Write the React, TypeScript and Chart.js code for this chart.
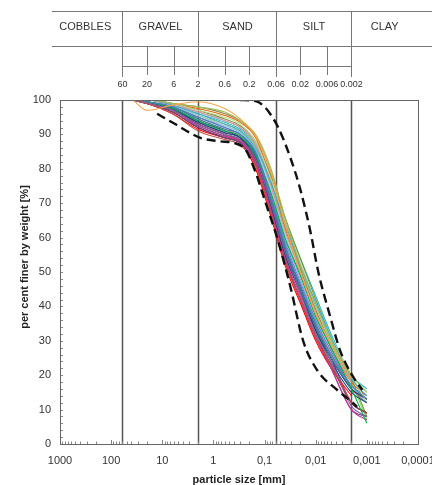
import React, { useEffect, useRef } from 'react';
import { Chart, registerables } from 'chart.js';

Chart.register(...registerables);

// particle sizes [mm] for the sample curves
const SIZES = [37.5, 20, 6.3, 2, 0.6, 0.3, 0.15, 0.075, 0.04, 0.02, 0.01, 0.005, 0.002, 0.001];

// per cent finer for each sample
const SAMPLES: (number | null)[][] = [
  [100, 97, 98.5, 99.5, 97.5, 94.5, 89.5, 79, 64, 50, 38, 29, 19, null],
  [100, 100, 99, 98, 96.5, 94, 90, 80, 66, 52, 40, 30, 20, 15],
  [100, 99, 96, 91, 88.5, 87, 81, 67, 53, 42, 31, 23, 12, null],
  [100, 99.5, 98, 95, 92, 90, 85, 72, 58, 46, 35, 26, 17, 13],
  [100, 99, 97, 93, 90, 88.5, 83, 70, 56, 44, 32, 24, 11, 8],
  [100, 100, 98.5, 96, 93, 91, 86, 76, 64, 52, 41, 31, 19, 14],
  [100, 99.5, 97.5, 94, 91, 89.5, 84, 73, 60, 49, 37, 28, 16, 6],
  [100, 99, 97, 92.5, 89.5, 88, 82, 68, 54, 43, 31, 22, 10, 7],
  [100, 99.5, 98, 94.5, 91.5, 90, 84.5, 71, 57, 45, 34, 25, 16, null],
  [100, 99, 97, 93.5, 90.5, 89, 83.5, 69, 55, 44, 33, 24, 15, 12],
  [100, 100, 98.5, 96.5, 94, 92, 87, 75, 62, 50, 38, 28, 18, null],
  [100, 100, 99, 97, 95, 93, 88, 77, 65, 53, 41, 31, 20, 12],
  [100, 99.5, 97.5, 94, 91, 89, 83, 70, 56, 45, 33, 25, 16, 13],
  [100, 100, 99, 97.5, 95.5, 93.5, 89, 77, 63, 50, 38, 28, 18, 14],
  [100, 99, 96.5, 92, 89, 87.5, 81.5, 68, 54, 42, 31, 22, 10, 8],
  [100, 100, 98.5, 95.5, 92.5, 90.5, 85.5, 74, 61, 49, 38, 28, 17, 12],
  [100, 99.5, 97, 93, 90, 88, 82.5, 69, 55, 44, 32, 23, 12, 9],
  [100, 100, 99, 97, 94.5, 92.5, 88, 78, 66, 54, 42, 31, 19, 8],
  [100, 99.5, 98, 95, 92, 90, 84.5, 72, 59, 47, 36, 27, 17, 14],
  [100, 99, 96, 91.5, 89, 87.5, 80, 66, 52, 41, 30, 22, 14, null],
  [100, 99.5, 97.5, 93.5, 90.5, 89, 84, 71, 57, 46, 34, 25, 12, 9],
  [100, 100, 98.5, 96, 93.5, 91.5, 87, 76, 65, 54, 43, 32, 20, 16],
  [100, 100, 99, 98, 96, 94, 89.5, 79, 65, 51, 39, 29, 19, null],
  [100, 99.5, 98, 94.5, 91.5, 89.5, 84.5, 72, 58, 46, 35, 26, 16, 12],
  [100, 99.5, 97.5, 93, 90, 88.5, 83, 70, 57, 46, 35, 26, 17, 13],
  [100, 99, 97, 92.5, 89.5, 88, 82.5, 69, 56, 45, 34, 25, 16, 12],
  [100, 100, 98, 95, 92.5, 90.5, 85, 73, 60, 48, 36, 27, 17, 13],
  [100, 100, 98.5, 95.5, 93, 91, 86.5, 75, 63, 52, 41, 30, 18, 7],
  [100, 99, 96.5, 92, 89, 87.5, 81, 67, 53, 42, 31, 23, 12, 9],
  [100, 100, 99, 96.5, 94, 92, 87.5, 76, 63, 51, 39, 29, 18, null],
];

const COLORS = [
  '#F7A54A', '#9BBB59', '#C0504D', '#4F81BD', '#8064A2', '#4BACC6', '#00B050', '#CC3399',
  '#31859C', '#1F497D', '#D99694', '#C3D69B', '#17375E', '#E46C0A', '#604A7B', '#93CDDD',
  '#953735', '#77933C', '#558ED5', '#FF0000', '#7030A0', '#2FB5C5', '#948A54', '#E26B8A',
  '#4F6228', '#0070C0', '#B2A1C7', '#92D050', '#C00000', '#8EB4E3',
];

// envelope curves (dashed)
const LOWER_SIZES = [12.6, 5.6, 1.8, 0.74, 0.26, 0.15, 0.1, 0.057, 0.0316, 0.0176, 0.0094, 0.0038, 0.00185, 0.00155];
const LOWER_VALUES = [96, 93, 89, 88, 86.3, 79, 71, 60, 46, 30, 21.5, 15.7, 11.9, 10.8];
const UPPER_SIZES = [0.3, 0.15, 0.1, 0.078, 0.054, 0.0316, 0.02, 0.0128, 0.0089, 0.0052, 0.0033, 0.00185, 0.00123];
const UPPER_VALUES = [100, 99.7, 98, 96, 92, 83.4, 74, 62, 50, 37, 27, 19.5, 15.7];

const X_TICKS = [1000, 100, 10, 1, 0.1, 0.01, 0.001, 0.0001];
const X_TICK_LABELS = ['1000', '100', '10', '1', '0,1', '0,01', '0,001', '0,0001'];

const CLASS_NAMES = ['COBBLES', 'GRAVEL', 'SAND', 'SILT', 'CLAY'];
const CLASS_BOUNDS = [60, 2, 0.06, 0.002];
const TABLE_TICKS = [60, 20, 6, 2, 0.6, 0.2, 0.06, 0.02, 0.006, 0.002];
const TABLE_TICK_LABELS = ['60', '20', '6', '2', '0.6', '0.2', '0.06', '0.02', '0.006', '0.002'];

const Y_TITLE = 'per cent finer by weight [%]';
const X_TITLE = 'particle size [mm]';

const FONT = '"Liberation Sans", Arial, sans-serif';

function seg(ctx: CanvasRenderingContext2D, x1: number, y1: number, x2: number, y2: number) {
  ctx.beginPath();
  ctx.moveTo(x1, y1);
  ctx.lineTo(x2, y2);
  ctx.stroke();
}

const framePlugin = {
  id: 'frame',
  beforeDatasetsDraw(chart: any) {
    const { ctx, chartArea: a } = chart;
    const xs = chart.scales.x;
    const ys = chart.scales.y;
    ctx.save();
    // class boundary lines
    ctx.strokeStyle = '#555';
    ctx.lineWidth = 1.5;
    CLASS_BOUNDS.forEach((v) => {
      const x = Math.round(xs.getPixelForValue(v)) + 0.5;
      seg(ctx, x, a.top, x, a.bottom);
    });
    // minor ticks
    ctx.strokeStyle = '#888';
    ctx.lineWidth = 1;
    for (let v = 0; v <= 100; v += 2) {
      const y = Math.round(ys.getPixelForValue(v)) + 0.5;
      seg(ctx, a.left, y, a.left + 3, y);
    }
    for (let e = -4; e < 3; e++) {
      for (let m = 1; m <= 9; m++) {
        const x = Math.round(xs.getPixelForValue(m * Math.pow(10, e))) + 0.5;
        seg(ctx, x, a.bottom, x, a.bottom - (m === 1 ? 4 : 2.5));
      }
    }
    ctx.restore();
  },
  afterDraw(chart: any) {
    const { ctx, chartArea: a } = chart;
    const xs = chart.scales.x;
    ctx.save();
    ctx.strokeStyle = '#666';
    ctx.lineWidth = 1;
    ctx.strokeRect(Math.round(a.left) + 0.5, Math.round(a.top) + 0.5, Math.round(a.right - a.left), Math.round(a.bottom - a.top));

    // y axis title
    ctx.save();
    ctx.translate(25, 257);
    ctx.rotate(-Math.PI / 2);
    ctx.fillStyle = '#222';
    ctx.font = `bold 11px ${FONT}`;
    ctx.textAlign = 'center';
    ctx.textBaseline = 'middle';
    ctx.fillText(Y_TITLE, 0, 0);
    ctx.restore();

    // classification table
    ctx.strokeStyle = '#777';
    seg(ctx, 52, 11.5, 432, 11.5);
    seg(ctx, 52, 46.5, 432, 46.5);
    const bx = CLASS_BOUNDS.map((v) => Math.round(xs.getPixelForValue(v)) + 0.5);
    bx.forEach((x) => seg(ctx, x, 11, x, 77));
    seg(ctx, bx[0], 66.5, bx[bx.length - 1], 66.5);
    TABLE_TICKS.forEach((v) => {
      if (CLASS_BOUNDS.indexOf(v) >= 0) return;
      const x = Math.round(xs.getPixelForValue(v)) + 0.5;
      seg(ctx, x, 46, x, 75);
    });
    ctx.fillStyle = '#333';
    ctx.textAlign = 'center';
    ctx.textBaseline = 'middle';
    ctx.font = `11px ${FONT}`;
    const edges = [48, ...bx, a.right];
    CLASS_NAMES.forEach((n, i) => {
      ctx.fillText(n, (edges[i] + edges[i + 1]) / 2, 27);
    });
    ctx.font = `9px ${FONT}`;
    TABLE_TICKS.forEach((v, i) => {
      ctx.fillText(TABLE_TICK_LABELS[i], xs.getPixelForValue(v), 85);
    });
    ctx.restore();
  },
};

export default function App() {
  const ref = useRef<HTMLCanvasElement>(null);
  useEffect(() => {
    if (!ref.current) return;
    Chart.defaults.font.family = FONT;
    const datasets: any[] = [
      {
        data: LOWER_SIZES.map((s, i) => ({ x: s, y: LOWER_VALUES[i] })),
        borderColor: '#111',
        borderWidth: 2.4,
        borderDash: [9, 5],
        cubicInterpolationMode: 'monotone',
      },
      {
        data: UPPER_SIZES.map((s, i) => ({ x: s, y: UPPER_VALUES[i] })),
        borderColor: '#111',
        borderWidth: 2.4,
        borderDash: [9, 5],
        cubicInterpolationMode: 'monotone',
      },
      ...SAMPLES.map((vals, k) => ({
        data: SIZES.map((s, i) => ({ x: s, y: vals[i] })),
        borderColor: COLORS[k % COLORS.length],
        borderWidth: 1.1,
        cubicInterpolationMode: 'monotone',
        spanGaps: false,
      })),
    ];
    const chart = new Chart(ref.current, {
      type: 'line',
      data: { datasets },
      options: {
        animation: false,
        responsive: false,
        maintainAspectRatio: false,
        parsing: false as any,
        normalized: true,
        layout: { padding: { top: 100, left: 8, right: 32, bottom: 0 } },
        elements: { point: { radius: 0 } },
        plugins: { legend: { display: false }, tooltip: { enabled: false } },
        scales: {
          x: {
            type: 'logarithmic',
            reverse: true,
            min: 0.0001,
            max: 1000,
            afterBuildTicks: (s: any) => {
              s.ticks = X_TICKS.map((v) => ({ value: v }));
            },
            afterFit: (s: any) => {
              s.height = 41;
            },
            ticks: {
              autoSkip: false,
              maxRotation: 0,
              padding: 10,
              color: '#333',
              font: { size: 11 },
              callback: (_v: any, i: number) => X_TICK_LABELS[i],
            },
            grid: { display: false, drawTicks: false },
            border: { display: false },
            title: {
              display: true,
              text: X_TITLE,
              color: '#222',
              font: { size: 11, weight: 'bold', lineHeight: 1 },
              padding: { top: 0, bottom: 0 },
            },
          },
          y: {
            min: 0,
            max: 100,
            afterFit: (s: any) => {
              s.width = 52;
            },
            ticks: { stepSize: 10, padding: 9, color: '#333', font: { size: 11 } },
            grid: { display: false, drawTicks: false },
            border: { display: false },
            title: { display: false },
          },
        },
      },
      plugins: [framePlugin],
    });
    return () => chart.destroy();
  }, []);
  return (
    <div style={{ position: 'fixed', left: 0, top: 0, width: 432, height: 485, overflow: 'hidden', background: '#fff' }}>
      <canvas ref={ref} width={450} height={485} style={{ width: 450, height: 485, display: 'block' }} />
    </div>
  );
}
